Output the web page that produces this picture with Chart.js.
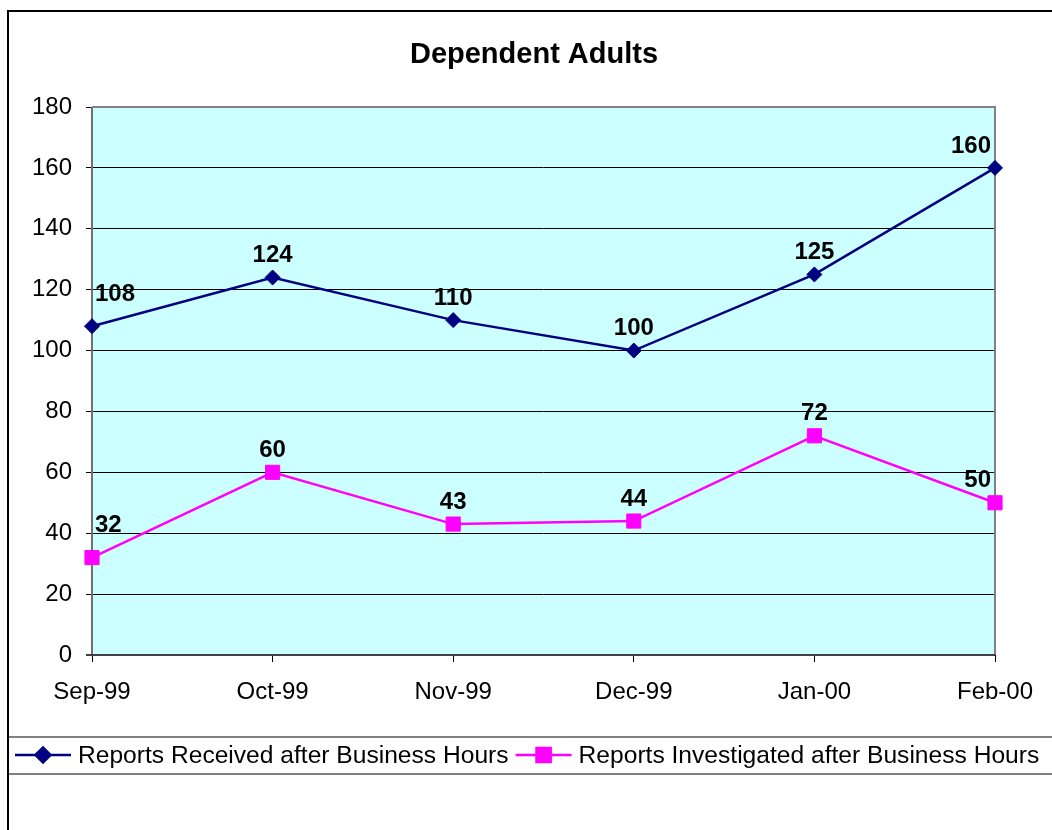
<!DOCTYPE html>
<html>
<head>
<meta charset="utf-8">
<script src="https://cdn.jsdelivr.net/npm/chart.js@4/dist/chart.umd.min.js"></script>
<style>
  html, body { margin: 0; padding: 0; background: #ffffff; }
  #wrap { width: 1052px; height: 830px; }
</style>
</head>
<body>
<div id="wrap"><canvas id="c" width="1052" height="830"></canvas></div>
<script>
const chartTitle = "Dependent Adults";
const categories = ["Sep-99", "Oct-99", "Nov-99", "Dec-99", "Jan-00", "Feb-00"];
const receivedLabel = "Reports Received after Business Hours";
const receivedValues = [108, 124, 110, 100, 125, 160];
const investigatedLabel = "Reports Investigated after Business Hours";
const investigatedValues = [32, 60, 43, 44, 72, 50];
const yMin = 0, yMax = 180, yStep = 20;

const FONT = "'Liberation Sans', Arial, Helvetica, sans-serif";

const decor = {
  id: 'decor',
  beforeDraw(chart) {
    const ctx = chart.ctx, a = chart.chartArea;
    ctx.save();
    ctx.fillStyle = '#ffffff';
    ctx.fillRect(0, 0, chart.width, chart.height);
    ctx.fillStyle = '#CCFFFF';
    ctx.fillRect(a.left, a.top, a.right - a.left, a.bottom - a.top);
    ctx.restore();
  },
  beforeDatasetsDraw(chart) {
    const ctx = chart.ctx, a = chart.chartArea;
    ctx.save();
    ctx.lineWidth = 2;
    ctx.strokeStyle = '#808080';
    ctx.beginPath();
    ctx.moveTo(a.left, a.top);
    ctx.lineTo(a.right, a.top);
    ctx.lineTo(a.right, a.bottom);
    ctx.stroke();
    ctx.strokeStyle = '#707070';
    ctx.beginPath();
    ctx.moveTo(a.left, a.top);
    ctx.lineTo(a.left, a.bottom);
    ctx.stroke();
    ctx.strokeStyle = '#404040';
    ctx.beginPath();
    ctx.moveTo(a.left - 6, a.bottom);
    ctx.lineTo(a.right, a.bottom);
    ctx.stroke();
    ctx.restore();
  },
  afterDraw(chart) {
    const ctx = chart.ctx;
    ctx.save();
    // title
    ctx.fillStyle = '#000';
    ctx.font = "bold 29px " + FONT;
    ctx.textAlign = 'center';
    ctx.textBaseline = 'middle';
    ctx.fillText(chartTitle, 534, 55);

    // data labels
    ctx.font = "bold 24px " + FONT;
    chart.data.datasets.forEach((ds, di) => {
      const meta = chart.getDatasetMeta(di);
      const n = meta.data.length;
      meta.data.forEach((pt, i) => {
        let x = pt.x, y = pt.y - 22;
        if (i === 0) { ctx.textAlign = 'left'; x += 3; y = pt.y - 32; }
        else if (i === n - 1) { ctx.textAlign = 'right'; x -= 4; }
        else ctx.textAlign = 'center';
        ctx.fillText(String(ds.data[i]), x, y);
      });
    });

    // legend
    const ly = 755;
    ctx.strokeStyle = '#808080';
    ctx.lineWidth = 2;
    ctx.strokeRect(8, 737, 1060, 37);
    ctx.font = "24.6px " + FONT;
    ctx.textAlign = 'left';
    let lx = 15;
    chart.data.datasets.forEach((ds) => {
      ctx.strokeStyle = ds.borderColor;
      ctx.lineWidth = 2.5;
      ctx.beginPath();
      ctx.moveTo(lx, ly);
      ctx.lineTo(lx + 56, ly);
      ctx.stroke();
      Chart.helpers.drawPoint(ctx, {
        pointStyle: ds.pointStyle, radius: ds.pointRadius, borderWidth: 1
      }, lx + 28, ly);
      ctx.fillStyle = ds.backgroundColor;
      ctx.fill();
      ctx.fillStyle = '#000';
      ctx.fillText(ds.label, lx + 63, ly + 1);
      lx = lx + 63 + ctx.measureText(ds.label).width + 7;
    });

    // outer frame
    ctx.strokeStyle = '#000';
    ctx.lineWidth = 2;
    ctx.beginPath();
    ctx.moveTo(8, 830);
    ctx.lineTo(8, 11);
    ctx.lineTo(1052, 11);
    ctx.stroke();
    ctx.restore();
  }
};

new Chart(document.getElementById('c'), {
  type: 'line',
  data: {
    labels: categories,
    datasets: [
      {
        label: receivedLabel,
        data: receivedValues,
        borderColor: '#000080',
        backgroundColor: '#000080',
        borderWidth: 2.5,
        pointStyle: 'rectRot',
        pointRadius: 7.5,
        pointHoverRadius: 7.5,
        pointBorderWidth: 1,
        pointBorderColor: '#000080',
        pointBackgroundColor: '#000080',
        tension: 0,
        clip: false
      },
      {
        label: investigatedLabel,
        data: investigatedValues,
        borderColor: '#FF00FF',
        backgroundColor: '#FF00FF',
        borderWidth: 2.5,
        pointStyle: 'rect',
        pointRadius: 10,
        pointHoverRadius: 10,
        pointBorderWidth: 1,
        pointBorderColor: '#FF00FF',
        pointBackgroundColor: '#FF00FF',
        tension: 0,
        clip: false
      }
    ]
  },
  options: {
    responsive: false,
    animation: false,
    events: [],
    layout: { padding: { left: 7, right: 57, top: 107, bottom: 100 } },
    plugins: {
      legend: { display: false },
      title: { display: false },
      tooltip: { enabled: false }
    },
    scales: {
      x: {
        type: 'category',
        offset: false,
        afterFit(s) { s.height = 75; },
        border: { display: false },
        grid: { drawOnChartArea: false, drawTicks: true, tickLength: 7, color: '#000', lineWidth: 1 },
        ticks: { color: '#000', font: { family: FONT, size: 24 }, padding: 16, maxRotation: 0, autoSkip: false }
      },
      y: {
        min: yMin, max: yMax,
        afterFit(s) { s.width = 85; },
        border: { display: false },
        grid: { color: '#000', lineWidth: 1, tickLength: 6 },
        ticks: { stepSize: yStep, color: '#000', font: { family: FONT, size: 24 }, padding: 14 }
      }
    }
  },
  plugins: [decor]
});
</script>
</body>
</html>
